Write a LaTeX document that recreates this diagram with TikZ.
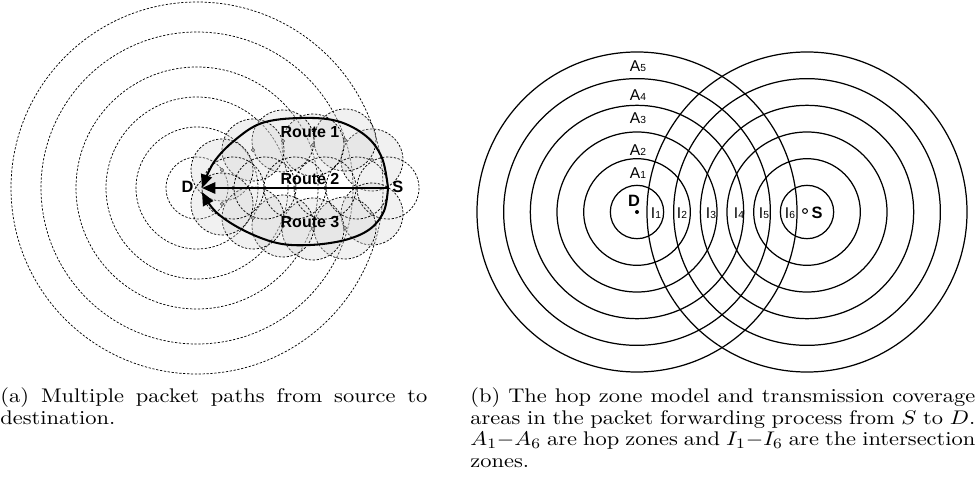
\documentclass[tikz,border=0pt]{standalone}
\usepackage{fontspec}
\newfontfamily\arial{Liberation Sans}
\usetikzlibrary{arrows.meta}
\newcommand\zsub[1]{{\fontsize{5}{5}\selectfont #1}}
\begin{document}
\begin{tikzpicture}[x=0.4878pt,y=-0.4878pt,
 ring/.style={draw=black, line width=0.35pt, dash pattern=on 1.1pt off 0.8pt},
 cover/.style={ring, fill=gray!35, fill opacity=0.32},
 route/.style={draw=black, line width=1pt, -{Triangle[length=6.5pt,width=5.5pt]}},
 hop/.style={draw=black, line width=0.6pt},
 rlabel/.style={font=\arial\bfseries\fontsize{7.8}{8}\selectfont, inner sep=0},
 zlabel/.style={font=\arial\fontsize{7.6}{8}\selectfont, inner sep=0, anchor=base},
 ptlabel/.style={font=\arial\bfseries\fontsize{8}{8}\selectfont, inner sep=0},
 caption/.style={inner sep=0, anchor=base west, font=\fontsize{10.95}{12}\selectfont},
 nodedot/.style={draw=black!70, line width=0.3pt, fill=white}]
\useasboundingbox (0,0) rectangle (975,489);

% ---------------- panel (a) ----------------
\coordinate (Da) at (202,188);
\coordinate (Sa) at (388,188);
\coordinate (Ca) at (197,188);
\foreach \r in {31,61,91,121,156,186} \draw[ring] (Ca) circle[radius=\r];
% coverage circles of routes 1 and 3
\foreach \p in {(372,160),(345,140),(313,145),(283,141),(253,150),(222,170),
                (372,214),(345,228),(313,229),(283,226),(253,218),(222,204)}
  \draw[cover] \p circle[radius=31];
% route 2 coverage circles
\foreach \p in {(233,188),(265,188),(295,188),(325,188),(357,188),(388,188)}
  \draw[ring] \p circle[radius=31];
\foreach \p in {(372,160),(345,140),(313,145),(283,141),(253,150),(222,170),
                (372,214),(345,228),(313,229),(283,226),(253,218),(222,204),
                (233,188),(265,188),(295,188),(325,188),(357,188)}
  \draw[nodedot] \p circle[radius=1.6];
% routes
\draw[route] plot[smooth, tension=0.6] coordinates {(Sa) (382,158) (366,136) (337,121) (300,118) (262,123) (235,140) (214,162) (Da)};
\draw[route] (Sa) -- (Da);
\draw[route] plot[smooth, tension=0.6] coordinates {(Sa) (384,211) (370,229) (345,240) (310,245) (277,243) (243,230) (216,212) (202,192)};
\node[rlabel] (r1) at (310,132) {Route 1};
\node[rlabel] (r2) at (310,179) {Route 2};
\node[rlabel] (r3) at (310,222) {Route 3};
\node[ptlabel, anchor=east] (labDa) at (194,187) {D};
\node[ptlabel, anchor=west] (labSa) at (392,187) {S};

% ---------------- panel (b) ----------------
\coordinate (Db) at (637,212);
\coordinate (Sb) at (807,212);
\foreach \k in {1,...,6} {
  \draw[hop] (Db) circle[radius=26.67*\k];
  \draw[hop] (Sb) circle[radius=26.67*\k];
}
\fill (Db) circle[radius=2];
\draw[line width=0.5pt] (805,211) circle[radius=2.4];
\node[ptlabel] (labDb) at (634,201) {D};
\node[ptlabel] (labSb) at (817,213) {S};
\node[zlabel] (a5) at (638,71) {A\zsub{5}};
\node[zlabel] (a4) at (638,100) {A\zsub{4}};
\node[zlabel] (a3) at (638,123) {A\zsub{3}};
\node[zlabel] (a2) at (638,155) {A\zsub{2}};
\node[zlabel] (a1) at (638,178) {A\zsub{1}};
\node[zlabel] (i1) at (656,218) {I\zsub{1}};
\node[zlabel] (i2) at (682,218) {I\zsub{2}};
\node[zlabel] (i3) at (711,218) {I\zsub{3}};
\node[zlabel] (i4) at (739,218) {I\zsub{4}};
\node[zlabel] (i5) at (764,218) {I\zsub{5}};
\node[zlabel] (i6) at (790,218) {I\zsub{6}};

% ---------------- captions ----------------
\node[caption] (capa) at (0,402.5) {\scalebox{1}[0.88]{\parbox[t]{208.3pt}{\hyphenpenalty=10000\tolerance=10000\hbadness=10000
(a) Multiple packet paths from source to\linebreak destination.}}};
\node[caption] (capb) at (470,402.5) {\scalebox{1}[0.88]{\parbox[t]{246.3pt}{\hyphenpenalty=10000\tolerance=10000\hbadness=10000
(b) The hop zone model and transmission coverage\linebreak areas in the packet forwarding process from $S$ to $D$.\linebreak $A_1{-}A_6$ are hop zones and $I_1{-}I_6$ are the intersection\linebreak zones.}}};
\end{tikzpicture}
\end{document}
